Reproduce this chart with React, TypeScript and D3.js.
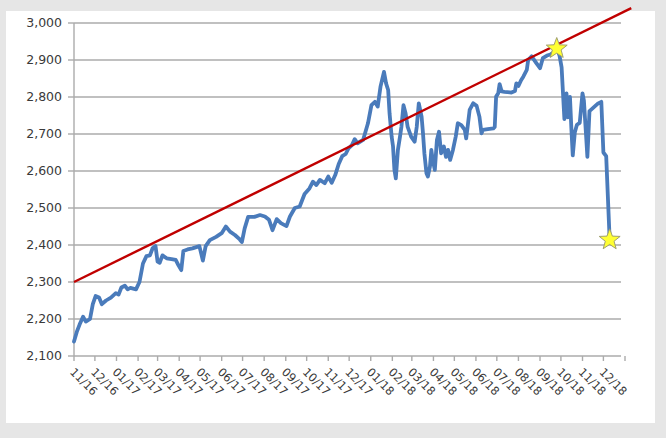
import React from "react";
import * as d3 from "d3";

const dates = [
  "2016-11-08","2016-11-12","2016-11-16","2016-11-21","2016-11-25","2016-12-01","2016-12-05","2016-12-09","2016-12-14","2016-12-18",
  "2016-12-24","2016-12-31","2017-01-07","2017-01-11","2017-01-15","2017-01-20","2017-01-24","2017-01-28","2017-02-05","2017-02-10",
  "2017-02-15","2017-02-20","2017-02-25","2017-03-01","2017-03-05","2017-03-08","2017-03-11","2017-03-15","2017-03-21","2017-03-28",
  "2017-04-03","2017-04-07","2017-04-11","2017-04-14","2017-04-20","2017-04-27","2017-05-07","2017-05-12","2017-05-16","2017-05-22",
  "2017-05-31","2017-06-08","2017-06-14","2017-06-20","2017-06-27","2017-07-04","2017-07-07","2017-07-11","2017-07-16","2017-07-25",
  "2017-08-02","2017-08-09","2017-08-15","2017-08-20","2017-08-26","2017-09-01","2017-09-09","2017-09-14","2017-09-21","2017-09-28",
  "2017-10-05","2017-10-12","2017-10-17","2017-10-22","2017-10-27","2017-11-03","2017-11-08","2017-11-13","2017-11-18","2017-11-23",
  "2017-11-28","2017-12-03","2017-12-07","2017-12-12","2017-12-16","2017-12-20","2017-12-28","2018-01-04","2018-01-09","2018-01-14",
  "2018-01-18","2018-01-22","2018-01-27","2018-01-30","2018-02-02","2018-02-04","2018-02-07","2018-02-09","2018-02-11","2018-02-13",
  "2018-02-16","2018-02-19","2018-02-21","2018-02-24","2018-02-27","2018-03-02","2018-03-07","2018-03-12","2018-03-15","2018-03-18",
  "2018-03-22","2018-03-24","2018-03-26","2018-03-29","2018-03-31","2018-04-03","2018-04-05","2018-04-07","2018-04-10","2018-04-13",
  "2018-04-16","2018-04-19","2018-04-23","2018-04-26","2018-04-29","2018-05-02","2018-05-06","2018-05-10","2018-05-13","2018-05-18",
  "2018-05-23","2018-05-25","2018-05-30","2018-06-04","2018-06-09","2018-06-13","2018-06-16","2018-06-18","2018-06-25","2018-07-03",
  "2018-07-05","2018-07-07","2018-07-10","2018-07-12","2018-07-15","2018-07-19","2018-07-29","2018-08-03","2018-08-05","2018-08-08",
  "2018-08-12","2018-08-15","2018-08-20","2018-08-22","2018-08-27","2018-09-03","2018-09-08","2018-09-12","2018-09-18","2018-09-23",
  "2018-09-29","2018-10-02","2018-10-06","2018-10-09","2018-10-11","2018-10-13","2018-10-16","2018-10-18","2018-10-21","2018-10-23",
  "2018-10-25","2018-10-28","2018-10-31","2018-11-04","2018-11-08","2018-11-10","2018-11-13","2018-11-15","2018-11-18","2018-11-24",
  "2018-11-30","2018-12-05","2018-12-08","2018-12-12","2018-12-14","2018-12-17",
];

const values = [
  2139,2165,2185,2206,2193,2200,2240,2262,2258,2240,
  2250,2258,2270,2266,2285,2290,2280,2284,2280,2300,
  2350,2370,2372,2392,2397,2355,2352,2372,2364,2362,
  2360,2345,2332,2384,2388,2391,2397,2358,2397,2413,
  2422,2432,2450,2436,2427,2415,2408,2445,2476,2476,
  2481,2477,2468,2440,2470,2459,2451,2477,2500,2504,
  2538,2553,2571,2562,2576,2567,2585,2568,2589,2619,
  2640,2646,2661,2670,2686,2675,2684,2729,2778,2787,
  2774,2828,2868,2837,2819,2756,2693,2666,2603,2580,
  2657,2693,2719,2778,2756,2719,2693,2679,2719,2783,
  2747,2702,2648,2594,2585,2612,2657,2630,2603,2684,
  2706,2648,2666,2638,2657,2630,2657,2693,2729,2724,
  2711,2688,2765,2783,2776,2747,2702,2711,2713,2715,
  2719,2801,2810,2835,2815,2814,2812,2816,2837,2830,
  2846,2855,2873,2900,2910,2891,2878,2905,2912,2915,
  2922,2931,2912,2880,2810,2740,2810,2745,2800,2715,
  2642,2705,2725,2730,2810,2790,2700,2638,2762,2772,
  2782,2787,2650,2640,2549,2414,
];

const trendDates = ["2016-11-08", "2019-01-17"];
const trendValues = [2300, 3040];

const yTicks = [2100, 2200, 2300, 2400, 2500, 2600, 2700, 2800, 2900, 3000];
const xTickLabels = [
  "11/16","12/16","01/17","02/17","03/17","04/17","05/17","06/17","07/17","08/17",
  "09/17","10/17","11/17","12/17","01/18","02/18","03/18","04/18","05/18","06/18",
  "07/18","08/18","09/18","10/18","11/18","12/18",
];

const parse = d3.timeParse("%Y-%m-%d");

function starPath(cx: number, cy: number, rOuter: number, rInner: number) {
  const pts: [number, number][] = d3.range(10).map((i) => {
    const r = i % 2 === 0 ? rOuter : rInner;
    const a = (Math.PI / 5) * i;
    return [a, r];
  });
  const gen = d3.lineRadial<[number, number]>().angle((d) => d[0]).radius((d) => d[1]).curve(d3.curveLinearClosed);
  return { d: gen(pts) || "", transform: `translate(${cx},${cy})` };
}

export default function App() {
  const W = 666, H = 438;
  const x0 = 74, x1 = 625, gridEnd = 621, yTop = 23, yBot = 356;
  const start = new Date(2016, 10, 8);
  const end = new Date(2019, 0, 8);
  const x = d3.scaleTime().domain([start, end]).range([x0, x1]);
  const y = d3.scaleLinear().domain([2100, 3000]).range([yBot, yTop]);

  const data = dates.map((d, i) => ({ date: parse(d) as Date, value: values[i] }));
  const line = d3.line<{ date: Date; value: number }>().x((d) => x(d.date)).y((d) => y(d.value));
  const trend = trendDates.map((d, i) => ({ date: parse(d) as Date, value: trendValues[i] }));

  const tickDates = d3.range(27).map((i) => new Date(2016, 10 + i, 8));

  const maxIdx = d3.maxIndex(values);
  const lastIdx = values.length - 1;
  const stars = [data[maxIdx], data[lastIdx]].map((d) => starPath(x(d.date), y(d.value), 11, 4.6));

  const labelColor = "#3a3a3a";
  const gridColor = "#ababab";

  return (
    <div style={{ position: "fixed", left: 0, top: 0, width: W, height: H }}>
      <svg width={W} height={H} style={{ display: "block" }}>
        <rect x={0} y={0} width={W} height={H} fill="#e6e6e6" />
        <rect x={6} y={11} width={649} height={412} fill="#ffffff" />
        {yTicks.map((t) => (
          <g key={t}>
            {t !== 2100 && (
              <line x1={x0} x2={gridEnd} y1={y(t)} y2={y(t)} stroke={gridColor} strokeWidth={1.4} />
            )}
            <line x1={x0 - 6} x2={x0} y1={y(t)} y2={y(t)} stroke={gridColor} strokeWidth={1.4} />
            <text
              x={62}
              y={y(t)}
              dy="0.35em"
              textAnchor="end"
              fontFamily="DejaVu Sans, sans-serif"
              fontSize={12.5}
              fill={labelColor}
            >
              {d3.format(",")(t)}
            </text>
          </g>
        ))}
        <line x1={x0} x2={x0} y1={yTop} y2={yBot} stroke={gridColor} strokeWidth={1.4} />
        <line x1={x0} x2={gridEnd} y1={yBot} y2={yBot} stroke={gridColor} strokeWidth={1.4} />
        {tickDates.map((d, i) => (
          <g key={i}>
            <line x1={x(d)} x2={x(d)} y1={yBot} y2={yBot + 5} stroke={gridColor} strokeWidth={1.4} />
            {i < xTickLabels.length && (
              <text
                transform={`translate(${x(d) + 1},${yBot + 11}) rotate(45)`}
                fontFamily="DejaVu Sans, sans-serif"
                fontSize={11.5}
                fill={labelColor}
                dy="0.7em"
              >
                {xTickLabels[i]}
              </text>
            )}
          </g>
        ))}
        <path
          d={line(data) || ""}
          fill="none"
          stroke="#4a7bbb"
          strokeWidth={3.8}
          strokeLinejoin="round"
          strokeLinecap="round"
        />
        <path d={line(trend) || ""} fill="none" stroke="#c00000" strokeWidth={2.4} />
        {stars.map((s, i) => (
          <path key={i} d={s.d} transform={s.transform} fill="#ffff33" stroke="#a0a070" strokeWidth={1} />
        ))}
      </svg>
    </div>
  );
}
